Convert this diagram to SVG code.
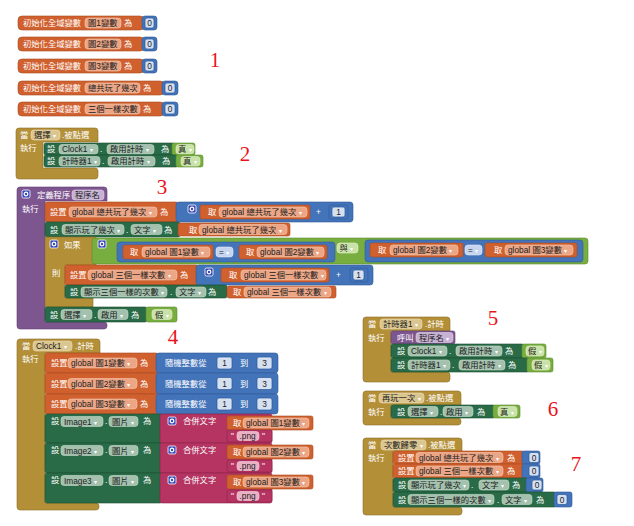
<svg xmlns="http://www.w3.org/2000/svg" width="634" height="526" viewBox="0 0 634 526">
<style>
.t{font-family:"Liberation Sans","Noto Sans CJK TC",sans-serif;font-size:8.3px;fill:#fff}
.d{fill:#222}
.c{text-anchor:middle}
.a{font-size:6px;fill:#fff}
.o{fill:#d0602e;stroke:#a94a21;stroke-width:.6}
.b{fill:#4373b9;stroke:#2f5a97;stroke-width:.6}
.g{fill:#296a47;stroke:#1d5034;stroke-width:.6}
.lg{fill:#78ae40;stroke:#5d8d2f;stroke-width:.6}
.m{fill:#b38f38;stroke:#8f7029;stroke-width:.6}
.p{fill:#7d558f;stroke:#623f73;stroke-width:.6}
.k{fill:#b53462;stroke:#8f2349;stroke-width:.6}
.fo{fill:#eca686;stroke:#f5c9b3;stroke-width:.6}
.fg{fill:#a3c1ad;stroke:#c6dacd;stroke-width:.6}
.fl{fill:#c9e2a7;stroke:#e0efcc;stroke-width:.6}
.fp{fill:#c7b2d3;stroke:#ddd0e5;stroke-width:.6}
.fm{fill:#dcc690;stroke:#ecdcb5;stroke-width:.6}
.fk{fill:#eab1c5;stroke:#f5d3df;stroke-width:.6}
.fn{fill:#d5e0f1;stroke:#2c5a9a;stroke-width:.7}
.eq{fill:#c5d5ef;stroke:#e0e9f7;stroke-width:.6}
.gear{fill:#3c4bb8;stroke:#fff;stroke-width:.8}
.gc{fill:none;stroke:#fff;stroke-width:1.2}
.lbl{font-family:"Liberation Serif",serif;font-size:21px;fill:#e8141c;text-anchor:middle}
</style>
<defs>
<g id="gearIcon"><rect class="gear" x="0" y="0" width="8" height="8" rx="1.5"/><circle class="gc" cx="4" cy="4" r="1.8"/></g>
</defs>

<g id="init1">
<rect class="o" x="18" y="16" width="126" height="14" rx="4"/>
<text class="t" x="23" y="26">初始化全域變數</text>
<rect class="fo" x="85" y="18" width="36" height="10" rx="3"/>
<text class="t d" x="88" y="26">圖1變數</text>
<text class="t" x="124" y="26">為</text>
<rect class="b" x="142" y="16" width="15" height="14" rx="3"/>
<rect class="fn" x="145" y="18" width="9" height="10" rx="2"/>
<text class="t d c" x="149.5" y="26">0</text>
</g>
<g id="init2">
<rect class="o" x="18" y="37" width="126" height="14" rx="4"/>
<text class="t" x="23" y="47">初始化全域變數</text>
<rect class="fo" x="85" y="39" width="36" height="10" rx="3"/>
<text class="t d" x="88" y="47">圖2變數</text>
<text class="t" x="124" y="47">為</text>
<rect class="b" x="142" y="37" width="15" height="14" rx="3"/>
<rect class="fn" x="145" y="39" width="9" height="10" rx="2"/>
<text class="t d c" x="149.5" y="47">0</text>
</g>
<g id="init3">
<rect class="o" x="18" y="59" width="126" height="14" rx="4"/>
<text class="t" x="23" y="69">初始化全域變數</text>
<rect class="fo" x="85" y="61" width="36" height="10" rx="3"/>
<text class="t d" x="88" y="69">圖3變數</text>
<text class="t" x="124" y="69">為</text>
<rect class="b" x="142" y="59" width="15" height="14" rx="3"/>
<rect class="fn" x="145" y="61" width="9" height="10" rx="2"/>
<text class="t d c" x="149.5" y="69">0</text>
</g>
<g id="init4">
<rect class="o" x="18" y="81" width="146" height="14" rx="4"/>
<text class="t" x="23" y="91">初始化全域變數</text>
<rect class="fo" x="85" y="83" width="55" height="10" rx="3"/>
<text class="t d" x="88" y="91">總共玩了幾次</text>
<text class="t" x="143" y="91">為</text>
<rect class="b" x="162" y="81" width="16" height="14" rx="3"/>
<rect class="fn" x="165" y="83" width="10" height="10" rx="2"/>
<text class="t d c" x="170" y="91">0</text>
</g>
<g id="init5">
<rect class="o" x="18" y="102" width="146" height="14" rx="4"/>
<text class="t" x="23" y="112">初始化全域變數</text>
<rect class="fo" x="85" y="104" width="55" height="10" rx="3"/>
<text class="t d" x="88" y="112">三個一樣次數</text>
<text class="t" x="143" y="112">為</text>
<rect class="b" x="162" y="102" width="16" height="14" rx="3"/>
<rect class="fn" x="165" y="104" width="10" height="10" rx="2"/>
<text class="t d c" x="170" y="112">0</text>
</g>
<text class="lbl" x="215" y="67">1</text>

<g id="selectClick">
<path class="m" d="M16,131 a3,3 0 0 1 3,-3 H95 a3,3 0 0 1 3,3 V142 H43 V168 H95 a3,3 0 0 1 3,3 V176 a3,3 0 0 1 -3,3 H19 a3,3 0 0 1 -3,-3 Z"/>
<text class="t" x="20" y="138">當</text>
<rect class="fm" x="31" y="130" width="29" height="10" rx="3"/>
<text class="t d" x="34" y="138">選擇 <tspan class="a">▾</tspan></text>
<text class="t" x="62" y="138">.被點選</text>
<text class="t" x="20" y="151">執行</text>
<rect class="g" x="44" y="143" width="131" height="12" rx="2"/>
<text class="t" x="47" y="152">設</text>
<rect class="fg" x="59" y="144.5" width="39" height="9.5" rx="3"/>
<text class="t d" x="62" y="152">Clock1 <tspan class="a">▾</tspan></text>
<text class="t" x="100" y="152">.</text>
<rect class="fg" x="107" y="144.5" width="47" height="9.5" rx="3"/>
<text class="t d" x="110" y="152">啟用計時 <tspan class="a">▾</tspan></text>
<text class="t" x="161" y="152">為</text>
<rect class="lg" x="172" y="143" width="23" height="12" rx="2"/>
<rect class="fl" x="176" y="144.5" width="18" height="9.5" rx="3"/>
<text class="t d" x="178" y="152">真 <tspan class="a">▾</tspan></text>
<rect class="g" x="44" y="155" width="134" height="12" rx="2"/>
<text class="t" x="47" y="164">設</text>
<rect class="fg" x="59" y="156.5" width="41" height="9.5" rx="3"/>
<text class="t d" x="62" y="164">計時器1 <tspan class="a">▾</tspan></text>
<text class="t" x="102" y="164">.</text>
<rect class="fg" x="108" y="156.5" width="47" height="9.5" rx="3"/>
<text class="t d" x="111" y="164">啟用計時 <tspan class="a">▾</tspan></text>
<text class="t" x="162" y="164">為</text>
<rect class="lg" x="176" y="155" width="27" height="12" rx="2"/>
<rect class="fl" x="181" y="156.5" width="19" height="9.5" rx="3"/>
<text class="t d" x="183" y="164">真 <tspan class="a">▾</tspan></text>
</g>
<text class="lbl" x="245" y="161">2</text>

<g id="procedure">
<path class="p" d="M17,190 a3,3 0 0 1 3,-3 H104 a3,3 0 0 1 3,3 V201 H45 V322 H104 a3,3 0 0 1 3,3 V326 a3,3 0 0 1 -3,3 H20 a3,3 0 0 1 -3,-3 Z"/>
<use href="#gearIcon" x="22" y="190"/>
<text class="t" x="37" y="198">定義程序</text>
<rect class="fp" x="72" y="190" width="32" height="10" rx="3"/>
<text class="t d" x="75" y="198">程序名</text>
<text class="t" x="22" y="212">執行</text>
<rect class="o" x="45" y="202" width="133" height="20" rx="2"/>
<text class="t" x="50" y="215">設置</text>
<rect class="fo" x="69" y="207" width="88" height="10" rx="3"/>
<text class="t d" x="72" y="215">global 總共玩了幾次 <tspan class="a">▾</tspan></text>
<text class="t" x="160" y="215">為</text>
<rect class="b" x="176" y="202" width="177" height="20" rx="3"/>
<use href="#gearIcon" x="188" y="205"/>
<rect class="o" x="200" y="205" width="110" height="14" rx="2"/>
<text class="t" x="208" y="215">取</text>
<rect class="fo" x="219" y="207" width="88" height="10" rx="3"/>
<text class="t d" x="222" y="215">global 總共玩了幾次 <tspan class="a">▾</tspan></text>
<text class="t" x="316" y="215">+</text>
<rect class="b" x="329" y="205" width="19" height="14" rx="2"/>
<rect class="fn" x="332" y="207" width="13" height="10" rx="2"/>
<text class="t d c" x="338.5" y="215">1</text>
<rect class="g" x="45" y="222" width="135" height="15" rx="2"/>
<text class="t" x="50" y="232.5">設</text>
<rect class="fg" x="62" y="224.5" width="62" height="10" rx="3"/>
<text class="t d" x="65" y="232.5">顯示玩了幾次 <tspan class="a">▾</tspan></text>
<text class="t" x="126" y="232.5">.</text>
<rect class="fg" x="131" y="224.5" width="31" height="10" rx="3"/>
<text class="t d" x="134" y="232.5">文字 <tspan class="a">▾</tspan></text>
<text class="t" x="164" y="232.5">為</text>
<rect class="o" x="178" y="223" width="112" height="13" rx="2"/>
<text class="t" x="189" y="232.5">取</text>
<rect class="fo" x="199" y="224.5" width="88" height="10" rx="3"/>
<text class="t d" x="202" y="232.5">global 總共玩了幾次 <tspan class="a">▾</tspan></text>
<path class="m" d="M45,237 H96 V265 H65 V298 H93 V307 H45 Z"/>
<use href="#gearIcon" x="50" y="240"/>
<text class="t" x="64" y="248">如果</text>
<rect class="lg" x="92" y="238" width="496" height="26" rx="3"/>
<use href="#gearIcon" x="98" y="240"/>
<rect class="b" x="117" y="242" width="218" height="20" rx="3"/>
<rect class="o" x="123" y="245" width="90" height="14" rx="2"/>
<text class="t" x="130" y="255">取</text>
<rect class="fo" x="142" y="247" width="68" height="10" rx="3"/>
<text class="t d" x="145" y="255">global 圖1變數 <tspan class="a">▾</tspan></text>
<rect class="eq" x="216" y="247" width="17" height="10" rx="3"/>
<text class="t d" x="219" y="255">= <tspan class="a">▾</tspan></text>
<rect class="o" x="239" y="245" width="88" height="14" rx="2"/>
<text class="t" x="246" y="255">取</text>
<rect class="fo" x="257" y="247" width="67" height="10" rx="3"/>
<text class="t d" x="260" y="255">global 圖2變數 <tspan class="a">▾</tspan></text>
<rect class="fl" x="337" y="243" width="21" height="10" rx="3"/>
<text class="t d" x="339.5" y="251">與 <tspan class="a">▾</tspan></text>
<rect class="b" x="365" y="240" width="218" height="22" rx="3"/>
<rect class="o" x="370" y="243" width="93" height="14" rx="2"/>
<text class="t" x="378" y="253">取</text>
<rect class="fo" x="390" y="245" width="68" height="10" rx="3"/>
<text class="t d" x="393" y="253">global 圖2變數 <tspan class="a">▾</tspan></text>
<rect class="eq" x="465" y="245" width="17" height="10" rx="3"/>
<text class="t d" x="468" y="253">= <tspan class="a">▾</tspan></text>
<rect class="o" x="485" y="243" width="92" height="14" rx="2"/>
<text class="t" x="494" y="253">取</text>
<rect class="fo" x="505" y="245" width="68" height="10" rx="3"/>
<text class="t d" x="508" y="253">global 圖3變數 <tspan class="a">▾</tspan></text>
<text class="t" x="52" y="276">則</text>
<rect class="o" x="65" y="265" width="133" height="20" rx="2"/>
<text class="t" x="70" y="278">設置</text>
<rect class="fo" x="88" y="270" width="89" height="10" rx="3"/>
<text class="t d" x="91" y="278">global 三個一樣次數 <tspan class="a">▾</tspan></text>
<text class="t" x="180" y="278">為</text>
<rect class="b" x="196" y="265" width="177" height="20" rx="3"/>
<use href="#gearIcon" x="205" y="268"/>
<rect class="o" x="221" y="268" width="108" height="14" rx="2"/>
<text class="t" x="229" y="278">取</text>
<rect class="fo" x="241" y="270" width="85" height="10" rx="3"/>
<text class="t d" x="244" y="278">global 三個一樣次數 <tspan class="a">▾</tspan></text>
<text class="t" x="336" y="278">+</text>
<rect class="b" x="350" y="268" width="18" height="14" rx="2"/>
<rect class="fn" x="353" y="270" width="11" height="10" rx="2"/>
<text class="t d c" x="358.5" y="278">1</text>
<rect class="g" x="65" y="285" width="162" height="13" rx="2"/>
<text class="t" x="70" y="294.5">設</text>
<rect class="fg" x="81" y="287" width="86" height="10" rx="3"/>
<text class="t d" x="84" y="294.5">顯示三個一樣的次數 <tspan class="a">▾</tspan></text>
<text class="t" x="170" y="294.5">.</text>
<rect class="fg" x="176" y="287" width="30" height="10" rx="3"/>
<text class="t d" x="179" y="294.5">文字 <tspan class="a">▾</tspan></text>
<text class="t" x="208" y="294.5">為</text>
<rect class="o" x="227" y="286" width="109" height="12" rx="2"/>
<text class="t" x="233" y="294.5">取</text>
<rect class="fo" x="244" y="287" width="87" height="10" rx="3"/>
<text class="t d" x="247" y="294.5">global 三個一樣次數 <tspan class="a">▾</tspan></text>
<rect class="g" x="45" y="307" width="102" height="15" rx="2"/>
<text class="t" x="50" y="317.5">設</text>
<rect class="fg" x="61" y="309.5" width="31" height="10" rx="3"/>
<text class="t d" x="64" y="317.5">選擇 <tspan class="a">▾</tspan></text>
<text class="t" x="94" y="317.5">.</text>
<rect class="fg" x="98" y="309.5" width="30" height="10" rx="3"/>
<text class="t d" x="101" y="317.5">啟用 <tspan class="a">▾</tspan></text>
<text class="t" x="131" y="317.5">為</text>
<rect class="lg" x="146" y="307" width="31" height="15" rx="2"/>
<rect class="fl" x="152" y="309.5" width="20" height="10" rx="3"/>
<text class="t d" x="155" y="317.5">假 <tspan class="a">▾</tspan></text>
</g>
<text class="lbl" x="162" y="194">3</text>

<g id="clockTimer">
<path class="m" d="M17,342 a3,3 0 0 1 3,-3 H97 a3,3 0 0 1 3,3 V353 H45 V503 H96 a3,3 0 0 1 3,3 V507 a3,3 0 0 1 -3,3 H20 a3,3 0 0 1 -3,-3 Z"/>
<text class="t" x="22" y="349">當</text>
<rect class="fm" x="33" y="341" width="39" height="10" rx="3"/>
<text class="t d" x="36" y="349">Clock1 <tspan class="a">▾</tspan></text>
<text class="t" x="75" y="349">.計時</text>
<text class="t" x="22" y="362">執行</text>
<rect class="o" x="45" y="353" width="113" height="20" rx="2"/>
<text class="t" x="51" y="366">設置</text>
<rect class="fo" x="68" y="358" width="69" height="10" rx="3"/>
<text class="t d" x="71" y="366">global 圖1變數 <tspan class="a">▾</tspan></text>
<text class="t" x="140" y="366">為</text>
<rect class="b" x="156" y="353" width="122" height="20" rx="3"/>
<text class="t" x="165" y="366">隨機整數從</text>
<rect class="fn" x="217" y="357" width="15" height="12" rx="2"/>
<text class="t d c" x="224.5" y="366">1</text>
<text class="t" x="240" y="366">到</text>
<rect class="fn" x="257" y="357" width="15" height="12" rx="2"/>
<text class="t d c" x="264.5" y="366">3</text>
<rect class="o" x="45" y="373" width="113" height="21" rx="2"/>
<text class="t" x="51" y="386.5">設置</text>
<rect class="fo" x="68" y="378.5" width="69" height="10" rx="3"/>
<text class="t d" x="71" y="386.5">global 圖2變數 <tspan class="a">▾</tspan></text>
<text class="t" x="140" y="386.5">為</text>
<rect class="b" x="156" y="373" width="122" height="21" rx="3"/>
<text class="t" x="165" y="386.5">隨機整數從</text>
<rect class="fn" x="217" y="377.5" width="15" height="12" rx="2"/>
<text class="t d c" x="224.5" y="386.5">1</text>
<text class="t" x="240" y="386.5">到</text>
<rect class="fn" x="257" y="377.5" width="15" height="12" rx="2"/>
<text class="t d c" x="264.5" y="386.5">3</text>
<rect class="o" x="45" y="394" width="113" height="20" rx="2"/>
<text class="t" x="51" y="407">設置</text>
<rect class="fo" x="68" y="399" width="69" height="10" rx="3"/>
<text class="t d" x="71" y="407">global 圖3變數 <tspan class="a">▾</tspan></text>
<text class="t" x="140" y="407">為</text>
<rect class="b" x="156" y="394" width="122" height="20" rx="3"/>
<text class="t" x="165" y="407">隨機整數從</text>
<rect class="fn" x="217" y="398" width="15" height="12" rx="2"/>
<text class="t d c" x="224.5" y="407">1</text>
<text class="t" x="240" y="407">到</text>
<rect class="fn" x="257" y="398" width="15" height="12" rx="2"/>
<text class="t d c" x="264.5" y="407">3</text>

<rect class="g" x="45" y="414" width="117" height="29" rx="2"/>
<text class="t" x="51" y="424">設</text>
<rect class="fg" x="61" y="416.5" width="42" height="10" rx="3"/>
<text class="t d" x="64" y="424.5">Image1 <tspan class="a">▾</tspan></text>
<text class="t" x="105" y="424">.</text>
<rect class="fg" x="109" y="416.5" width="29" height="10" rx="3"/>
<text class="t d" x="112" y="424.5">圖片 <tspan class="a">▾</tspan></text>
<text class="t" x="143" y="424">為</text>
<rect class="k" x="160" y="414" width="112" height="29" rx="2"/>
<use href="#gearIcon" x="168" y="417"/>
<text class="t" x="183" y="424">合併文字</text>
<rect class="o" x="227" y="416" width="86" height="14" rx="2"/>
<text class="t" x="233" y="426">取</text>
<rect class="fo" x="243" y="418" width="66" height="10" rx="3"/>
<text class="t d" x="246" y="426">global 圖1變數 <tspan class="a">▾</tspan></text>
<rect class="k" x="227" y="430" width="45" height="12" rx="2"/>
<text class="t" x="231" y="439">"</text>
<rect class="fk" x="237" y="431.5" width="22" height="9" rx="3"/>
<text class="t d" x="239.5" y="439">.png</text>
<text class="t" x="262" y="439">"</text>

<rect class="g" x="45" y="443" width="117" height="30" rx="2"/>
<text class="t" x="51" y="453">設</text>
<rect class="fg" x="61" y="445.5" width="42" height="10" rx="3"/>
<text class="t d" x="64" y="453.5">Image2 <tspan class="a">▾</tspan></text>
<text class="t" x="105" y="453">.</text>
<rect class="fg" x="109" y="445.5" width="29" height="10" rx="3"/>
<text class="t d" x="112" y="453.5">圖片 <tspan class="a">▾</tspan></text>
<text class="t" x="143" y="453">為</text>
<rect class="k" x="160" y="443" width="112" height="30" rx="2"/>
<use href="#gearIcon" x="168" y="446"/>
<text class="t" x="183" y="453">合併文字</text>
<rect class="o" x="227" y="445" width="86" height="14" rx="2"/>
<text class="t" x="233" y="455">取</text>
<rect class="fo" x="243" y="447" width="66" height="10" rx="3"/>
<text class="t d" x="246" y="455">global 圖2變數 <tspan class="a">▾</tspan></text>
<rect class="k" x="227" y="460" width="45" height="12" rx="2"/>
<text class="t" x="231" y="469">"</text>
<rect class="fk" x="237" y="461.5" width="22" height="9" rx="3"/>
<text class="t d" x="239.5" y="469">.png</text>
<text class="t" x="262" y="469">"</text>

<rect class="g" x="45" y="473" width="117" height="30" rx="2"/>
<text class="t" x="51" y="483">設</text>
<rect class="fg" x="61" y="475.5" width="42" height="10" rx="3"/>
<text class="t d" x="64" y="483.5">Image3 <tspan class="a">▾</tspan></text>
<text class="t" x="105" y="483">.</text>
<rect class="fg" x="109" y="475.5" width="29" height="10" rx="3"/>
<text class="t d" x="112" y="483.5">圖片 <tspan class="a">▾</tspan></text>
<text class="t" x="143" y="483">為</text>
<rect class="k" x="160" y="473" width="112" height="30" rx="2"/>
<use href="#gearIcon" x="168" y="476"/>
<text class="t" x="183" y="483">合併文字</text>
<rect class="o" x="227" y="475" width="86" height="14" rx="2"/>
<text class="t" x="233" y="485">取</text>
<rect class="fo" x="243" y="477" width="66" height="10" rx="3"/>
<text class="t d" x="246" y="485">global 圖3變數 <tspan class="a">▾</tspan></text>
<rect class="k" x="227" y="490" width="45" height="12" rx="2"/>
<text class="t" x="231" y="499">"</text>
<rect class="fk" x="237" y="491.5" width="22" height="9" rx="3"/>
<text class="t d" x="239.5" y="499">.png</text>
<text class="t" x="262" y="499">"</text>
</g>
<text class="lbl" x="173" y="344">4</text>

<g id="timer1Tick">
<path class="m" d="M363,320 a3,3 0 0 1 3,-3 H447 a3,3 0 0 1 3,3 V331 H391 V372 H447 a3,3 0 0 1 3,3 V379 a3,3 0 0 1 -3,3 H366 a3,3 0 0 1 -3,-3 Z"/>
<text class="t" x="368" y="327">當</text>
<rect class="fm" x="380" y="319" width="42" height="10" rx="3"/>
<text class="t d" x="383" y="327">計時器1 <tspan class="a">▾</tspan></text>
<text class="t" x="425" y="327">.計時</text>
<text class="t" x="368" y="341">執行</text>
<rect class="p" x="391" y="331" width="64" height="13" rx="2"/>
<text class="t" x="397" y="340.5">呼叫</text>
<rect class="fp" x="416" y="332.5" width="37" height="10" rx="3"/>
<text class="t d" x="419" y="340.5">程序名 <tspan class="a">▾</tspan></text>
<rect class="g" x="391" y="344" width="133" height="14" rx="2"/>
<text class="t" x="397" y="354">設</text>
<rect class="fg" x="408" y="346" width="39" height="10" rx="3"/>
<text class="t d" x="411" y="354">Clock1 <tspan class="a">▾</tspan></text>
<text class="t" x="449" y="354">.</text>
<rect class="fg" x="456" y="346" width="46" height="10" rx="3"/>
<text class="t d" x="459" y="354">啟用計時 <tspan class="a">▾</tspan></text>
<text class="t" x="505" y="354">為</text>
<rect class="lg" x="522" y="344" width="24" height="14" rx="2"/>
<rect class="fl" x="526" y="346" width="18" height="10" rx="3"/>
<text class="t d" x="528" y="354">假 <tspan class="a">▾</tspan></text>
<rect class="g" x="391" y="358" width="138" height="14" rx="2"/>
<text class="t" x="397" y="368">設</text>
<rect class="fg" x="408" y="360" width="42" height="10" rx="3"/>
<text class="t d" x="411" y="368">計時器1 <tspan class="a">▾</tspan></text>
<text class="t" x="452" y="368">.</text>
<rect class="fg" x="459" y="360" width="46" height="10" rx="3"/>
<text class="t d" x="462" y="368">啟用計時 <tspan class="a">▾</tspan></text>
<text class="t" x="508" y="368">為</text>
<rect class="lg" x="527" y="358" width="26" height="14" rx="2"/>
<rect class="fl" x="532" y="360" width="18" height="10" rx="3"/>
<text class="t d" x="534" y="368">假 <tspan class="a">▾</tspan></text>
</g>
<text class="lbl" x="493" y="325">5</text>

<g id="replayClick">
<path class="m" d="M363,394 a3,3 0 0 1 3,-3 H458 a3,3 0 0 1 3,3 V405 H391 V418 H458 a3,3 0 0 1 3,3 V422 a3,3 0 0 1 -3,3 H366 a3,3 0 0 1 -3,-3 Z"/>
<text class="t" x="368" y="401">當</text>
<rect class="fm" x="379" y="393" width="45" height="10" rx="3"/>
<text class="t d" x="382" y="401">再玩一次 <tspan class="a">▾</tspan></text>
<text class="t" x="426" y="401">.被點選</text>
<text class="t" x="368" y="415">執行</text>
<rect class="g" x="391" y="405" width="104" height="13" rx="2"/>
<text class="t" x="397" y="414.5">設</text>
<rect class="fg" x="408" y="406.5" width="30" height="10" rx="3"/>
<text class="t d" x="411" y="414.5">選擇 <tspan class="a">▾</tspan></text>
<text class="t" x="440" y="414.5">.</text>
<rect class="fg" x="443" y="406.5" width="30" height="10" rx="3"/>
<text class="t d" x="446" y="414.5">啟用 <tspan class="a">▾</tspan></text>
<text class="t" x="477" y="414.5">為</text>
<rect class="lg" x="493" y="405" width="27" height="13" rx="2"/>
<rect class="fl" x="498" y="406.5" width="19" height="10" rx="3"/>
<text class="t d" x="500" y="414.5">真 <tspan class="a">▾</tspan></text>
</g>
<text class="lbl" x="553" y="416">6</text>

<g id="resetClick">
<path class="m" d="M363,441 a3,3 0 0 1 3,-3 H459 a3,3 0 0 1 3,3 V451 H393 V507 H459 a3,3 0 0 1 3,3 V512 a3,3 0 0 1 -3,3 H366 a3,3 0 0 1 -3,-3 Z"/>
<text class="t" x="368" y="447.5">當</text>
<rect class="fm" x="381" y="440" width="45" height="10" rx="3"/>
<text class="t d" x="384" y="447.5">次數歸零 <tspan class="a">▾</tspan></text>
<text class="t" x="428" y="447.5">.被點選</text>
<text class="t" x="368" y="461">執行</text>
<rect class="o" x="393" y="451" width="131" height="13" rx="2"/>
<text class="t" x="398" y="460.5">設置</text>
<rect class="fo" x="416" y="452.5" width="87" height="10" rx="3"/>
<text class="t d" x="419" y="460.5">global 總共玩了幾次 <tspan class="a">▾</tspan></text>
<text class="t" x="507" y="460.5">為</text>
<rect class="b" x="522" y="451" width="18" height="13" rx="2"/>
<rect class="fn" x="529" y="452.5" width="10" height="10" rx="2"/>
<text class="t d c" x="534" y="460.5">0</text>
<rect class="o" x="393" y="464" width="131" height="14" rx="2"/>
<text class="t" x="398" y="474">設置</text>
<rect class="fo" x="416" y="466" width="87" height="10" rx="3"/>
<text class="t d" x="419" y="474">global 三個一樣次數 <tspan class="a">▾</tspan></text>
<text class="t" x="507" y="474">為</text>
<rect class="b" x="522" y="464" width="18" height="14" rx="2"/>
<rect class="fn" x="529" y="466" width="10" height="10" rx="2"/>
<text class="t d c" x="534" y="474">0</text>
<rect class="g" x="393" y="478" width="135" height="14" rx="2"/>
<text class="t" x="398" y="488">設</text>
<rect class="fg" x="408" y="480" width="61" height="10" rx="3"/>
<text class="t d" x="411" y="488">顯示玩了幾次 <tspan class="a">▾</tspan></text>
<text class="t" x="471" y="488">.</text>
<rect class="fg" x="479" y="480" width="30" height="10" rx="3"/>
<text class="t d" x="482" y="488">文字 <tspan class="a">▾</tspan></text>
<text class="t" x="512" y="488">為</text>
<rect class="b" x="526" y="478" width="17" height="14" rx="2"/>
<rect class="fn" x="532" y="480" width="10" height="10" rx="2"/>
<text class="t d c" x="537" y="488">0</text>
<rect class="g" x="393" y="492" width="163" height="15" rx="2"/>
<text class="t" x="398" y="502.5">設</text>
<rect class="fg" x="408" y="494.5" width="86" height="10" rx="3"/>
<text class="t d" x="411" y="502.5">顯示三個一樣的次數 <tspan class="a">▾</tspan></text>
<text class="t" x="497" y="502.5">.</text>
<rect class="fg" x="502" y="494.5" width="30" height="10" rx="3"/>
<text class="t d" x="505" y="502.5">文字 <tspan class="a">▾</tspan></text>
<text class="t" x="536" y="502.5">為</text>
<rect class="b" x="554" y="492" width="18" height="15" rx="2"/>
<rect class="fn" x="557" y="494.5" width="10" height="10" rx="2"/>
<text class="t d c" x="562" y="502.5">0</text>
</g>
<text class="lbl" x="576" y="471">7</text>
</svg>
